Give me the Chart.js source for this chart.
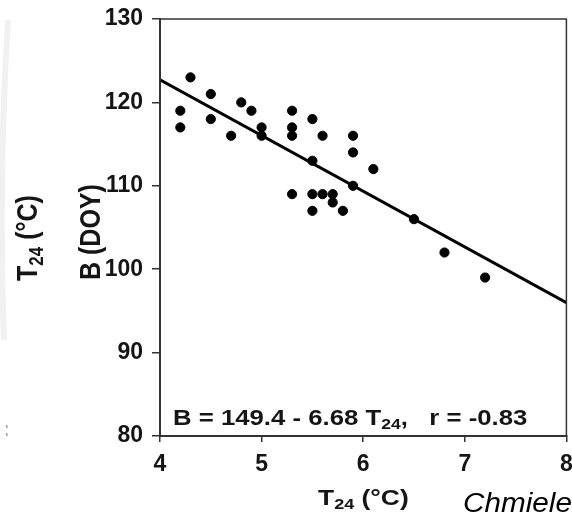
<!DOCTYPE html>
<html>
<head>
<meta charset="utf-8">
<script src="https://cdn.jsdelivr.net/npm/chart.js@4/dist/chart.umd.min.js"></script>
<style>
  html, body { margin: 0; padding: 0; background: #fff; }
  #wrap { width: 572px; height: 515px; }
</style>
</head>
<body>
<div id="wrap"><canvas id="grafiek" width="572" height="515"></canvas></div>
<script>
// gemeten punten (T24 in °C, B in dag van het jaar)
const tempC = [4.2, 4.2, 4.3, 4.5, 4.5, 4.7, 4.8, 4.9, 5.0, 5.0,
               5.3, 5.3, 5.3, 5.3, 5.5, 5.5, 5.5, 5.5, 5.6, 5.6,
               5.7, 5.7, 5.8, 5.9, 5.9, 5.9, 6.1, 6.5, 6.8, 7.2];
const doy = [119, 117, 123, 121, 118, 116, 120, 119, 117, 116,
             119, 117, 116, 109, 118, 113, 109, 107, 116, 109,
             109, 108, 107, 116, 114, 110, 112, 106, 102, 99];

const fitT = [4, 8];
const fitB = [122.7, 96.0];

const xTicks = [4, 5, 6, 7, 8];
const yTicks = [80, 90, 100, 110, 120, 130];

const fontFam = '"Liberation Sans", Arial, sans-serif';
const inkt = '#151515';

// tekst met subscript "24"; sx/sy rekken de letters op (het origineel is breed uitgerekt)
function tekstMetSub(ctx, delen, x, y, size, sx, sy, stijl) {
  ctx.save();
  ctx.translate(x, y);
  ctx.scale(sx, sy);
  let cx = 0;
  delen.forEach(d => {
    if (d.sub) {
      ctx.font = (stijl || 'bold') + ' ' + Math.round(size * 0.68) + 'px ' + fontFam;
      ctx.fillText(d.t, cx, size * 0.2);
    } else {
      ctx.font = (stijl || 'bold') + ' ' + size + 'px ' + fontFam;
      ctx.fillText(d.t, cx, 0);
    }
    cx += ctx.measureText(d.t).width;
  });
  ctx.restore();
}

// geen extra ruimte rond de assen, het plotvlak ligt vast
function zetPadding0(s) {
  s.paddingLeft = 0;
  s.paddingRight = 0;
  s.paddingTop = 0;
  s.paddingBottom = 0;
}

const extraTekst = {
  id: 'extraTekst',
  beforeDraw(chart) {
    const ctx = chart.ctx;
    ctx.save();
    // vage grijze band aan de linkerrand (scan-artefact)
    ctx.strokeStyle = '#f1f1f1';
    ctx.lineWidth = 6;
    ctx.beginPath();
    ctx.moveTo(8, 20);
    ctx.quadraticCurveTo(-2, 180, 4, 340);
    ctx.stroke();
    ctx.fillStyle = '#999';
    ctx.fillRect(6, 425, 1.5, 3);
    ctx.fillRect(6, 433, 1.5, 3);
    ctx.restore();
  },
  afterDraw(chart) {
    const ctx = chart.ctx;
    const a = chart.chartArea;
    ctx.save();
    // kader
    ctx.strokeStyle = '#333';
    ctx.lineWidth = 1.5;
    ctx.strokeRect(a.left, a.top, a.right - a.left, a.bottom - a.top);

    ctx.fillStyle = inkt;
    ctx.textBaseline = 'alphabetic';
    ctx.textAlign = 'left';

    // vergelijking
    tekstMetSub(ctx, [{t: 'B = 149.4 - 6.68 T'}, {t: '24', sub: true}, {t: ',   r = -0.83'}], 173, 425, 22, 1.17, 1);

    // x-as titel
    tekstMetSub(ctx, [{t: 'T'}, {t: '24', sub: true}, {t: ' (°C)'}], 318, 505, 22, 1.2, 1);

    // y-as titels (gedraaid)
    ctx.save();
    ctx.translate(100, 280);
    ctx.rotate(-Math.PI / 2);
    tekstMetSub(ctx, [{t: 'B (DOY)'}], 0, 0, 25, 1, 1.15);
    ctx.restore();

    ctx.save();
    ctx.translate(37, 281);
    ctx.rotate(-Math.PI / 2);
    tekstMetSub(ctx, [{t: 'T'}, {t: '24', sub: true}, {t: ' (°C)'}], 0, 0, 25, 1, 1.15);
    ctx.restore();

    // bronvermelding, afgesneden aan de rand
    ctx.fillStyle = '#000';
    tekstMetSub(ctx, [{t: 'Chmielewski'}], 463, 512, 27, 1.1, 1, 'italic');
    ctx.restore();
  }
};

new Chart(document.getElementById('grafiek').getContext('2d'), {
  type: 'scatter',
  data: {
    datasets: [{
      data: tempC.map((t, i) => ({x: t, y: doy[i]})),
      backgroundColor: '#000',
      borderColor: '#000',
      pointRadius: 4.6,
      pointHoverRadius: 4.6,
      order: 1
    }, {
      type: 'line',
      data: fitT.map((t, i) => ({x: t, y: fitB[i]})),
      borderColor: '#000',
      borderWidth: 3,
      pointRadius: 0,
      fill: false,
      order: 2
    }]
  },
  options: {
    responsive: false,
    animation: false,
    events: [],
    layout: { padding: { top: 19, right: 5, left: 0, bottom: 0 } },
    plugins: { legend: { display: false }, tooltip: { enabled: false } },
    scales: {
      x: {
        type: 'linear',
        min: 4, max: 8,
        afterFit: s => { s.height = 79; zetPadding0(s); },
        afterBuildTicks: s => { s.ticks = xTicks.map(v => ({value: v})); },
        ticks: { color: inkt, font: { family: fontFam, size: 23, weight: 'bold' }, padding: 9 },
        grid: { drawOnChartArea: false, drawTicks: true, tickLength: 6, color: '#333', lineWidth: 1.5 },
        border: { display: true, color: '#333', width: 2 }
      },
      y: {
        min: 80, max: 130,
        afterFit: s => { s.width = 160; zetPadding0(s); },
        afterBuildTicks: s => { s.ticks = yTicks.map(v => ({value: v})); },
        ticks: { color: inkt, font: { family: fontFam, size: 23, weight: 'bold' }, padding: 9 },
        grid: { drawOnChartArea: false, drawTicks: true, tickLength: 8, color: '#333', lineWidth: 1.5 },
        border: { display: true, color: '#333', width: 2 }
      }
    }
  },
  plugins: [extraTekst]
});
</script>
</body>
</html>
